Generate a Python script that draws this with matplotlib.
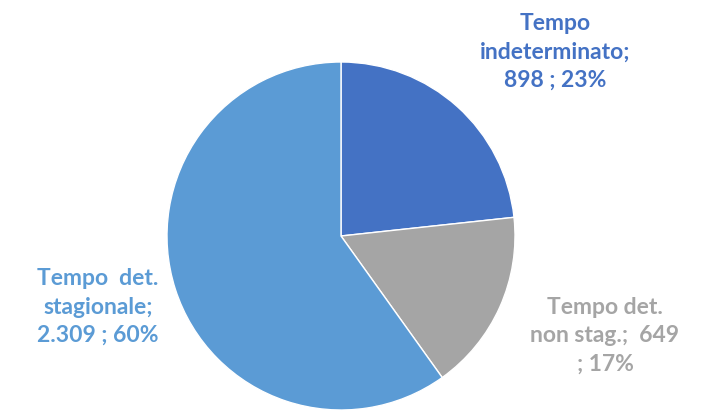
import matplotlib
matplotlib.use("Agg")
import matplotlib.pyplot as plt

categories = ["Tempo\nindeterminato;", "Tempo det.\nnon stag.;  649", "Tempo  det.\nstagionale;"]
values = [898, 649, 2309]
value_labels = ["898", "649", "2.309"]
colors = ["#4472C4", "#A5A5A5", "#5B9BD5"]

W, H = 706, 418
fig = plt.figure(figsize=(W / 100, H / 100), dpi=100)
fig.patch.set_facecolor("white")

cx, cy, r = 341, 236, 174
ax = fig.add_axes([(cx - r) / W, (H - cy - r) / H, 2 * r / W, 2 * r / H])
ax.pie(values, colors=colors, startangle=90, counterclock=False, radius=1,
       wedgeprops=dict(edgecolor="white", linewidth=1))
ax.set_xlim(-1, 1)
ax.set_ylim(-1, 1)
ax.set_aspect("equal")
ax.axis("off")

total = sum(values)
pcts = [round(v / total * 100) for v in values]
texts = [
    f"Tempo\nindeterminato;\n{value_labels[0]} ; {pcts[0]}%",
    f"Tempo det.\nnon stag.;  {value_labels[1]}\n; {pcts[1]}%",
    f"Tempo  det.\nstagionale;\n{value_labels[2]} ; {pcts[2]}%",
]
# label centres in pixel coordinates
label_pos = [(555, 52), (605, 336), (98, 307)]
for t, (px, py), c in zip(texts, label_pos, colors):
    fig.text(px / W, 1 - py / H, t, ha="center", va="center", color=c,
             fontsize=16.5, fontweight="bold", family="Lato", linespacing=1.45)

fig.savefig("out.png", dpi=100, facecolor="white")
